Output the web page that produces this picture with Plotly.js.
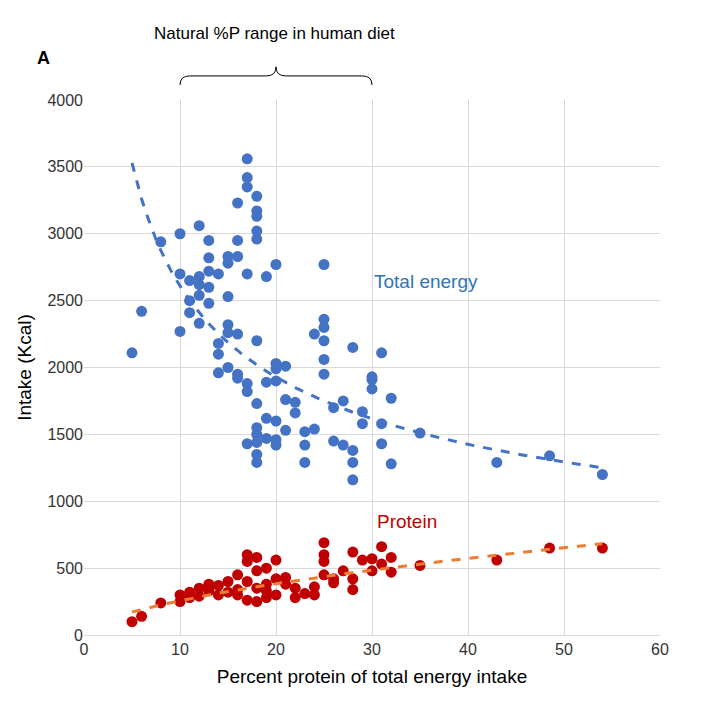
<!DOCTYPE html>
<html><head><script src="https://cdn.plot.ly/plotly-3.0.1.min.js"></script></head>
<body style="margin:0"><div id="c" style="width:709px;height:723px"></div>
<script>
const energyX=[5,6,8,10,10,10,11,11,11,12,12,12,12,12,13,13,13,13,13,14,14,14,14,15,15,15,15,15,15,16,16,16,16,16,16,17,17,17,17,17,17,17,18,18,18,18,18,18,18,18,18,18,18,18,19,19,19,19,20,20,20,20,20,20,20,21,21,21,22,22,23,23,23,24,24,25,25,25,25,25,25,26,26,27,27,28,28,28,28,29,29,30,30,30,31,31,32,32,31,35,43,48.5,54];
const energyY=[2110,2420,2940,3000,2700,2270,2650,2500,2410,3060,2680,2620,2540,2330,2950,2820,2720,2600,2480,2700,2180,2100,1960,2830,2780,2530,2320,2260,2000,3230,2950,2830,1950,1920,2250,3560,3420,3350,2700,1880,1820,1430,3280,3170,3130,3020,2960,2200,1730,1550,1500,1440,1350,1290,2680,1890,1620,1470,2770,2030,1990,1420,1460,1600,1900,2010,1760,1530,1740,1660,1520,1420,1290,1540,2250,2770,2360,2300,2200,2060,1950,1450,1700,1750,1420,2150,1380,1290,1160,1670,1580,1930,1910,1840,2110,1430,1770,1280,1580,1510,1290,1340,1200];
const proteinX=[5,6,8,10,10,11,12,12,13,13,14,14,15,15,16,16,17,17,17,17,18,18,18,18,19,19,19,20,20,20,21,22,23,24,25,25,25,25,26,27,28,28,28,29,30,30,31,31,32,32,35,43,48.5,54,11,13,16,19,21,22,24,26];
const proteinY=[100,140,240,300,250,280,350,290,380,330,300,370,400,320,450,340,600,550,400,260,580,480,350,250,500,380,280,560,420,300,430,350,310,360,690,600,550,450,390,480,620,420,340,560,570,480,660,530,580,470,520,560,650,650,320,360,300,330,380,280,300,420];
const energyFit={a:7120,b:-0.436}, proteinFit={a:67.5,b:0.58};
const fitX=[];for(let x=5;x<=54;x+=0.5)fitX.push(x);
const f=(p)=>fitX.map(x=>p.a*Math.pow(x,p.b));
const blue='#4472C4', red='#C00000';
Plotly.newPlot('c',[
 {x:energyX,y:energyY,mode:'markers',marker:{color:blue,size:11},type:'scatter'},
 {x:proteinX,y:proteinY,mode:'markers',marker:{color:red,size:11},type:'scatter'},
 {x:fitX,y:f(energyFit),mode:'lines',line:{color:blue,dash:'dash',width:3},type:'scatter'},
 {x:fitX,y:f(proteinFit),mode:'lines',line:{color:'#ED7D31',dash:'dash',width:3},type:'scatter'}
],{
 width:709,height:723,showlegend:false,paper_bgcolor:'white',plot_bgcolor:'white',
 margin:{l:84,r:49,t:100,b:88},
 font:{family:'Liberation Sans, Arial',size:16,color:'#000'},
 xaxis:{range:[0,60],dtick:10,showgrid:true,gridcolor:'#d9d9d9',zeroline:false,showline:true,linecolor:'#d9d9d9',
   title:{text:'Percent protein of total energy intake',font:{size:19},standoff:12},tickfont:{size:16,color:'#333'}},
 yaxis:{range:[0,4000],dtick:500,showgrid:true,gridcolor:'#d9d9d9',zeroline:false,
   title:{text:'Intake (Kcal)',font:{size:19},standoff:10},tickfont:{size:16,color:'#333'}},
 shapes:[{type:'path',xref:'x',yref:'paper',path:'M 10,1.028 Q 10,1.045 11,1.045 L 19,1.045 Q 20,1.045 20,1.062 Q 20,1.045 21,1.045 L 29,1.045 Q 30,1.045 30,1.028',line:{color:'#000',width:1}}],
 annotations:[
  {text:'Natural %P range in human diet',x:19.8,xref:'x',y:1.145,yref:'paper',showarrow:false,font:{size:17}},
  {text:'<b>A</b>',x:-0.085,xref:'paper',y:1.10,yref:'paper',showarrow:false,font:{size:18}},
  {text:'Total energy',x:30,y:2640,xanchor:'left',showarrow:false,font:{size:19,color:'#2E75B6'}},
  {text:'Protein',x:30.3,y:850,xanchor:'left',showarrow:false,font:{size:19,color:red}}
 ]
},{displayModeBar:false});
</script></body></html>
